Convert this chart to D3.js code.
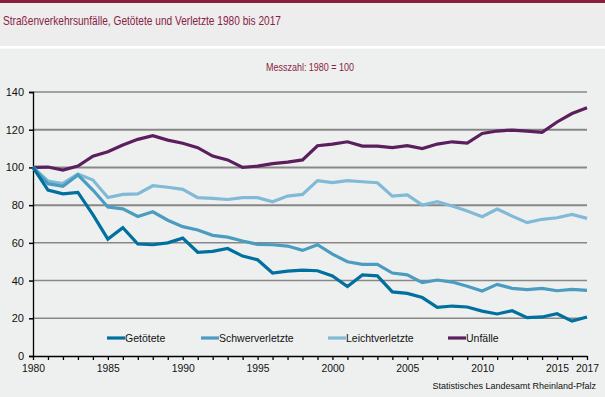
<!DOCTYPE html>
<html><head><meta charset="utf-8">
<script src="https://cdn.jsdelivr.net/npm/d3@7"></script>
<style>
html,body{margin:0;padding:0;background:#fff;}
svg{display:block;font-family:"Liberation Sans",Arial,sans-serif;}
</style></head>
<body>
<svg id="chart" width="605" height="397"></svg>
<script>
const years = d3.range(1980, 2018);
const getoetete = [100,88,86,86.8,75,62,68,59.4,59,60,62.5,55,55.5,57,53,51,44,45,45.5,45.2,42.4,36.8,43,42.5,34,33.2,31,25.8,26.5,26,23.8,22.3,24,20.3,20.7,22.4,18.5,20.7];
const schwerverletzte = [100,91.4,90,96,88,79,78,74,76.5,72,68.6,66.8,64,63,61,59.2,59,58.3,56,59,54,50,48.6,48.6,44,43,38.9,40.3,39.2,37,34.5,38,35.9,35.2,35.9,34.6,35.3,34.8];
const leichtverletzte = [100,92.8,91.5,96.5,93.3,84,85.7,86,90.3,89.5,88.4,84,83.6,83,84,84,81.8,84.8,85.7,93,92,93,92.4,91.9,84.8,85.4,80,81.8,79.5,76.9,73.9,77.9,74.2,70.7,72.5,73.3,75.1,73];
const unfaelle = [100,100.2,98.6,100.7,106,108.3,111.9,114.9,116.8,114.5,112.8,110.5,106,104,100,100.7,102,102.8,104,111.5,112.4,113.6,111.3,111.3,110.5,111.5,110,112.4,113.6,112.9,118,119.3,119.8,119.3,118.6,124.1,128.6,131.6];
const seriesNames = ["Getötete","Schwerverletzte","Leichtverletzte","Unfälle"];
const seriesColors = ["#00709f","#4b9cc1","#80bad6","#5c1f5e"];
const yTicks = [0,20,40,60,80,100,120,140];
const xTickLabels = [1980,1985,1990,1995,2000,2005,2010,2015,2017];

const svg = d3.select("#chart");
// backgrounds
svg.append("rect").attr("x",0).attr("y",0).attr("width",605).attr("height",397).attr("fill","#eef0ef");
svg.append("rect").attr("x",0).attr("y",0).attr("width",605).attr("height",46).attr("fill","#ecedec");
svg.append("rect").attr("x",0).attr("y",46).attr("width",605).attr("height",2.5).attr("fill","#ffffff");
svg.append("rect").attr("x",0).attr("y",0).attr("width",605).attr("height",3).attr("fill","#8a1c3c");

svg.append("text").attr("x",3).attr("y",25).attr("fill","#8a1c46").attr("font-size",13)
  .attr("textLength",278).attr("lengthAdjust","spacingAndGlyphs")
  .text("Straßenverkehrsunfälle, Getötete und Verletzte 1980 bis 2017");
svg.append("text").attr("x",310).attr("y",71).attr("text-anchor","middle").attr("fill","#8a1c46")
  .attr("font-size",10).attr("textLength",88).attr("lengthAdjust","spacingAndGlyphs").text("Messzahl: 1980 = 100");

const x = d3.scaleLinear().domain([1980,2017]).range([33,587]);
const y = d3.scaleLinear().domain([0,140]).range([356,92]);

// grid
svg.append("g").selectAll("line").data(yTicks.filter(d=>d>0)).join("line")
  .attr("x1",33).attr("x2",587).attr("y1",d=>y(d)).attr("y2",d=>y(d))
  .attr("stroke","#878787").attr("stroke-width",d=>(d>=80&&d<=120)?2:1.5);

// axes
const yAxis = d3.axisLeft(y).tickValues(yTicks).tickSize(4).tickPadding(5).tickFormat(d3.format("d"));
const gy = svg.append("g").attr("transform","translate(33,0)").call(yAxis);
gy.select(".domain").attr("stroke","#000").attr("stroke-width",1.3);
gy.selectAll(".tick line").attr("stroke","#000").attr("stroke-width",1.5);
gy.selectAll(".tick text").attr("font-size",11).attr("fill","#111").attr("font-family","Liberation Sans, Arial, sans-serif");

const xAxis = d3.axisBottom(x).tickValues(years).tickSize(4).tickSizeOuter(0).tickPadding(4)
  .tickFormat(d=>xTickLabels.includes(d)?String(d):"");
const gx = svg.append("g").attr("transform","translate(0,356)").call(xAxis);
gx.select(".domain").attr("stroke","#000").attr("stroke-width",1.3);
gx.selectAll(".tick line").attr("stroke","#000").attr("stroke-width",1.3);
gx.selectAll(".tick text").attr("font-size",11).attr("fill","#111").attr("font-family","Liberation Sans, Arial, sans-serif")
  .attr("textLength",23).attr("lengthAdjust","spacingAndGlyphs");

// lines
const allSeries = [getoetete, schwerverletzte, leichtverletzte, unfaelle];
const line = d3.line().x((d,i)=>x(years[i])).y(d=>y(d));
[3,2,1,0].forEach(k=>{
  svg.append("path").datum(allSeries[k]).attr("d",line).attr("fill","none")
    .attr("stroke",seriesColors[k]).attr("stroke-width",3.2).attr("stroke-linejoin","miter");
});

// legend
const legX = [107,201,328,448];
const lg = svg.append("g");
seriesNames.forEach((n,i)=>{
  lg.append("line").attr("x1",legX[i]).attr("x2",legX[i]+18).attr("y1",338).attr("y2",338)
    .attr("stroke",seriesColors[i]).attr("stroke-width",3.2);
  lg.append("text").attr("x",legX[i]+18).attr("y",342).attr("font-size",10.5).attr("fill","#111").text(n);
});

svg.append("text").attr("x",596).attr("y",389).attr("text-anchor","end").attr("font-size",9).attr("fill","#111")
  .text("Statistisches Landesamt Rheinland-Pfalz");
</script>
</body></html>
